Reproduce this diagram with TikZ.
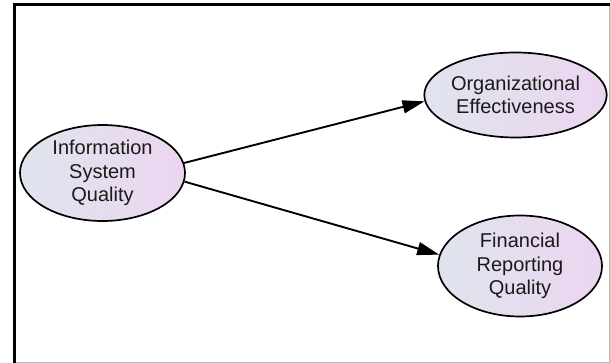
\documentclass[tikz,border=0pt]{standalone}
\usepackage{fontspec}
\setmainfont{Liberation Sans}
\usetikzlibrary{shapes.geometric,arrows.meta}
\definecolor{fillL}{HTML}{E0E4EE}
\definecolor{fillR}{HTML}{ECD5F0}
\definecolor{txt}{HTML}{1A1A1A}
\tikzset{
  latent/.style={ellipse, draw=black, line width=1.7pt, left color=fillL, right color=fillR,
    inner sep=0pt, align=center, text=txt, font=\fontsize{20}{23.5}\selectfont},
  path/.style={line width=1.9pt, -{Triangle[length=22pt,width=13pt]}}
}
\begin{document}
\begin{tikzpicture}[x=1pt,y=-1pt]
\useasboundingbox (0,0) rectangle (610,363);
\fill[white] (0,0) rectangle (610,363);
\draw[gray!55, line width=1pt] (14,362.2) -- (609.2,362.2) -- (609.2,4);
\draw[black, line width=3pt] (14,363) -- (14,4.5) -- (609.5,4.5);
\node[latent, minimum width=165pt, minimum height=96pt] (isq) at (102.5,173) {Information\\System\\Quality};
\node[latent, minimum width=165pt, minimum height=85pt] (org) at (515.5,95) {Organizational\\Effectiveness};
\node[latent, minimum width=164pt, minimum height=101pt] (frq) at (520,266) {Financial\\Reporting\\Quality};
\draw[path] (isq.7) -- (org.184);
\draw[path] (isq.-6) -- (frq.172);
\end{tikzpicture}
\end{document}
